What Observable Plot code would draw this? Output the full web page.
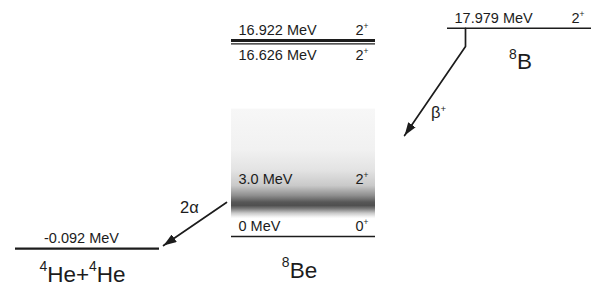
<!DOCTYPE html>
<html><head><meta charset="utf-8">
<script src="https://cdn.jsdelivr.net/npm/d3@7"></script>
<script src="https://cdn.jsdelivr.net/npm/@observablehq/plot@0.6"></script>
<style>body{margin:0;background:#fff} svg{display:block}</style>
</head><body><div id="chart"></div>
<script>
// ---- data ----
const nuclei = ["4He+4He", "8Be", "8B"];
const nucleusLabels = ["^4He+^4He", "^8Be", "^8B"];

const levelNucleus = ["8B", "8Be", "8Be", "8Be", "8Be", "4He+4He"];
const levelEnergy = [17.979, 16.922, 16.626, 3.0, 0, -0.092];      // MeV
const levelText = ["17.979 MeV", "16.922 MeV", "16.626 MeV", "3.0 MeV", "0 MeV", "-0.092 MeV"];
const levelSpin = ["2^+", "2^+", "2^+", "2^+", "0^+", ""];
const levelBroad = [false, false, false, true, false, false];
const broadLow = [null, null, null, 1.5, null, null];   // MeV extent of broad state shading
const broadHigh = [null, null, null, 11.0, null, null];

// transitions (column index, MeV)
const betaCol = [1.75, 1.75, 1.468];
const betaE = [17.979, 16.40, 8.72];
const alphaCol = [0.6435, 0.352];
const alphaE = [2.94, -0.777];
const transitionLabel = ["β^+", "2α"];
const transitionLabelCol = [1.625, 0.472];
const transitionLabelE = [10.19, 2.07];

// ---- build ----
const fontFamily = "'Liberation Sans', Arial, Helvetica, sans-serif";
const ink = "#1c1c1c";
const colOf = n => nuclei.indexOf(n);
const levels = levelEnergy.map((E, i) => ({
  nucleus: levelNucleus[i], col: colOf(levelNucleus[i]), E,
  text: levelText[i], spin: levelSpin[i], broad: levelBroad[i],
  low: broadLow[i], high: broadHigh[i]
}));
const isHe = d => d.nucleus === "4He+4He";
const heShift = 11;
const half = 1 / 3;

const sharp = levels.filter(d => !d.broad && !isHe(d));
const he = levels.filter(isHe);
const above = sharp.filter(d => d.E !== 16.626);
const below = sharp.filter(d => d.E === 16.626);
const broad = levels.filter(d => d.broad);

const betaPath = betaCol.map((c, i) => ({col: c, E: betaE[i]}));
const alphaPath = alphaCol.map((c, i) => ({col: c, E: alphaE[i]}));
const tLabels = transitionLabel.map((t, i) => ({t, col: transitionLabelCol[i], E: transitionLabelE[i]}));
const ground = nuclei.map((n, i) => ({
  label: nucleusLabels[i], col: i,
  E: d3.min(levels.filter(d => d.nucleus === n), d => d.E)
}));

const FS = 14.5;
const levelLabels = (data, dy) => [
  Plot.text(data, {x: "col", y: "E", text: "text", dx: -65, dy, textAnchor: "start", lineAnchor: "bottom", fontSize: FS, fill: ink}),
  Plot.text(data, {x: "col", y: "E", text: "spin", dx: 65, dy, textAnchor: "end", lineAnchor: "bottom", fontSize: FS, fill: ink})
];
const nucLabel = (col, dx, dy) => Plot.text(ground.filter(d => d.col === col), {
  x: "col", y: "E", text: "label", dx, dy, textAnchor: "middle", lineAnchor: "bottom", fontSize: 22.5, fill: ink
});

const svg = Plot.plot({
  width: 592, height: 289,
  margin: 0,
  style: {background: "#fff", fontFamily},
  x: {type: "linear", domain: [0, 2], range: [87, 519], axis: null},
  y: {type: "linear", domain: [0, 16.922], range: [236, 40], axis: null},
  marks: [
    Plot.rect(broad, {x1: d => d.col - half, x2: d => d.col + half, y1: "low", y2: "high", fill: "#cccccc"}),
    Plot.ruleY(sharp, {y: "E", x1: d => d.col - half, x2: d => d.col + half, stroke: ink, strokeWidth: d => d.E === 16.922 ? 2.8 : 1.3}),
    Plot.ruleY(he, {y: "E", x1: d => d.col - half, x2: d => d.col + half, dy: heShift, stroke: ink, strokeWidth: 2.2}),
    ...levelLabels(above, -5.5),
    ...levelLabels(below, 16),
    ...levelLabels(broad, -18),
    Plot.text(he, {x: "col", y: "E", text: "text", dx: -6, dy: heShift - 5.5, textAnchor: "middle", lineAnchor: "bottom", fontSize: FS, fill: ink}),
    Plot.line(betaPath, {x: "col", y: "E", stroke: ink, strokeWidth: 1.7}),
    Plot.line(alphaPath, {x: "col", y: "E", stroke: ink, strokeWidth: 1.7}),
    Plot.text(tLabels, {x: "col", y: "E", text: "t", textAnchor: "middle", lineAnchor: "bottom", fontSize: 16.5, fill: ink}),
    nucLabel(0, -5, heShift + 33),
    nucLabel(1, -4, 41),
    nucLabel(2, 1, 41)
  ]
});
document.getElementById("chart").append(svg);

// ---- decorations: gradient for broad state, filled arrowheads, superscripts ----
const s = d3.select(svg);
const defs = s.insert("defs", ":first-child");
const grad = defs.append("linearGradient").attr("id", "beGrad")
  .attr("x1", 0).attr("y1", 0).attr("x2", 0).attr("y2", 1);
[[0, "#f7f7f7"], [0.37, "#f1f1f1"], [0.56, "#e3e3e3"], [0.70, "#c9c9c9"], [0.79, "#8e8e8e"],
 [0.85, "#575757"], [0.88, "#4f4f4f"], [0.91, "#7c7c7c"], [0.95, "#c9c9c9"], [0.985, "#f5f5f5"], [1, "#ffffff"]]
  .forEach(([o, c]) => grad.append("stop").attr("offset", o).attr("stop-color", c));
defs.append("marker").attr("id", "ah").attr("viewBox", "0 0 13 9")
  .attr("refX", 13).attr("refY", 4.5).attr("markerWidth", 13).attr("markerHeight", 9)
  .attr("markerUnits", "userSpaceOnUse").attr("orient", "auto")
  .append("path").attr("d", "M0,0L13,4.5L0,9Z").attr("fill", ink);
s.selectAll('g[aria-label="rect"] rect').attr("fill", "url(#beGrad)");
s.selectAll('g[aria-label="line"] path').attr("marker-end", "url(#ah)");

s.selectAll("text").each(function () {
  const el = this.querySelector("tspan") || this;
  const t = el.textContent;
  if (!t.includes("^")) return;
  const fs = parseFloat(getComputedStyle(this).fontSize) || 13;
  const big = fs > 18;
  const raise = (big ? 0.46 : 0.4) * fs;
  const small = (big ? 0.62 : 0.58) * fs;
  el.textContent = "";
  let up = false;
  for (const p of t.split(/(\^.)/)) {
    if (!p) continue;
    const sel = d3.select(el).append("tspan");
    if (p[0] === "^") {
      sel.attr("font-size", small + "px").attr("dy", up ? 0 : -raise).text(p[1]);
      up = true;
    } else {
      sel.attr("dy", up ? raise : 0).text(p);
      up = false;
    }
  }
});
</script>
</body></html>
